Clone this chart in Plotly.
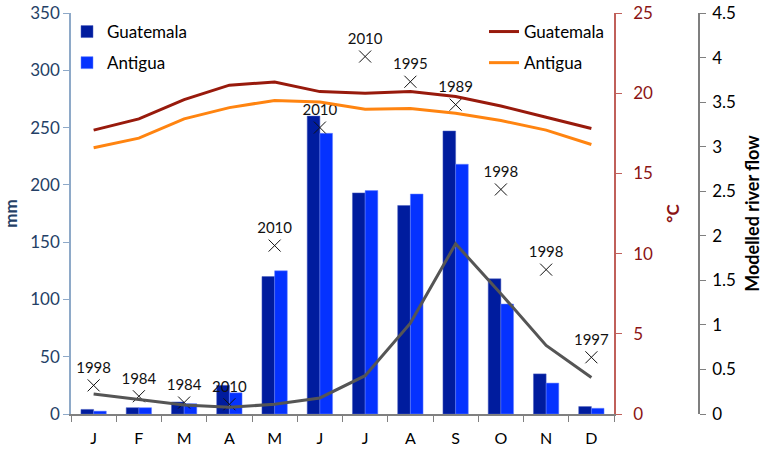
import plotly.graph_objects as go

months = ["J", "F", "M", "A", "M", "J", "J", "A", "S", "O", "N", "D"]
x_idx = list(range(12))

# Precipitation (mm)
precip_guatemala = [4, 5.5, 10.5, 25, 120, 260, 193, 182, 247, 118, 35, 6.5]
precip_antigua = [2.5, 5.5, 9, 18.5, 125, 245, 195, 192, 218, 96, 27, 5]

# Temperature (°C)
temp_guatemala = [17.7, 18.4, 19.6, 20.5, 20.7, 20.1, 20.0, 20.1, 19.8, 19.2, 18.5, 17.8]
temp_antigua = [16.6, 17.2, 18.4, 19.1, 19.55, 19.45, 19.0, 19.05, 18.75, 18.3, 17.7, 16.8]

# Modelled river flow
river_flow = [0.225, 0.165, 0.10, 0.075, 0.11, 0.18, 0.43, 1.02, 1.91, 1.35, 0.77, 0.41]

# Record values (mm) and their years
record_values = [25, 15.5, 10, 8.5, 147, 250, 312, 290, 270, 196, 126, 49.5]
record_years = ["1998", "1984", "1984", "2010", "2010", "2010", "2010", "1995", "1989", "1998", "1998", "1997"]

FONT = "Lato"
W, H = 763, 452
ML, MR, MT, MB = 71, 10, 13, 38
PW = W - ML - MR
PH = H - MT - MB
x_end = (614 - ML) / PW
flow_pos = (699 - ML) / PW

fig = go.Figure()

fig.add_trace(go.Bar(
    x=x_idx, y=precip_guatemala, name="Guatemala",
    marker=dict(color="#001C9E", line=dict(color="#4a5fc0", width=0.5)),
    legend="legend", legendgroup="g1",
))
fig.add_trace(go.Bar(
    x=x_idx, y=precip_antigua, name="Antigua",
    marker=dict(color="#0532FF", line=dict(color="#6b84ff", width=0.5)),
    legend="legend", legendgroup="g2",
))

fig.add_trace(go.Scatter(
    x=x_idx, y=temp_guatemala, name="Guatemala", mode="lines",
    line=dict(color="#981A0C", width=3), yaxis="y2",
    legend="legend2", legendgroup="g3",
))
fig.add_trace(go.Scatter(
    x=x_idx, y=temp_antigua, name="Antigua", mode="lines",
    line=dict(color="#FF8410", width=3), yaxis="y2",
    legend="legend2", legendgroup="g4",
))

fig.add_trace(go.Scatter(
    x=x_idx, y=river_flow, mode="lines", showlegend=False,
    line=dict(color="#555555", width=3), yaxis="y3",
))

fig.add_trace(go.Scatter(
    x=x_idx, y=record_values, mode="markers+text", showlegend=False,
    text=record_years, textposition="top center",
    textfont=dict(family=FONT, size=15, color="#111111"),
    marker=dict(symbol="x-thin-open", size=12, color="#111111",
                line=dict(color="#111111", width=1)),
    yaxis="y",
))

fig.update_layout(
    width=W, height=H,
    margin=dict(l=ML, r=MR, t=MT, b=MB, autoexpand=False),
    paper_bgcolor="white", plot_bgcolor="white",
    font=dict(family=FONT, size=15, color="#000000"),
    barmode="group", bargap=0.44, bargroupgap=0,
    xaxis=dict(
        domain=[0, x_end], range=[-0.5, 11.5], automargin=False,
        tickvals=x_idx, ticktext=months, ticks="", ticklabelstandoff=9,
        showline=True, linecolor="#808080", linewidth=1.5,
        showgrid=False, zeroline=False,
        tickfont=dict(family=FONT, size=16, color="#000000"),
        minor=dict(tick0=-0.5, dtick=1, ticks="outside", ticklen=6,
                   tickcolor="#808080", showgrid=False),
    ),
    yaxis=dict(
        range=[0, 350], dtick=50, ticks="outside", ticklen=6, automargin=False,
        tickcolor="#8EA9C8", showline=True, linecolor="#8EA9C8", linewidth=1.5,
        showgrid=False, zeroline=False,
        tickfont=dict(family=FONT, size=17, color="#243F66"),
        title=dict(text="<b>mm</b>", font=dict(family=FONT, size=17, color="#243F66")),
    ),
    yaxis2=dict(
        overlaying="y", side="right", anchor="x", automargin=False,
        range=[0, 25], dtick=5, ticks="outside", ticklen=6, ticklabelstandoff=8,
        tickcolor="#C0605A", showline=True, linecolor="#C0605A", linewidth=1.5,
        showgrid=False, zeroline=False,
        tickfont=dict(family=FONT, size=17, color="#8B1414"),
        title=dict(text="<b>°C</b>", font=dict(family=FONT, size=17, color="#8B1414")),
    ),
    yaxis3=dict(
        overlaying="y", side="right", anchor="free", position=flow_pos, automargin=False,
        range=[0, 4.5], dtick=0.5, ticks="outside", ticklen=6, ticklabelstandoff=3,
        tickcolor="#7F7F7F", showline=True, linecolor="#7F7F7F", linewidth=1.5,
        showgrid=False, zeroline=False,
        tickfont=dict(family=FONT, size=17, color="#000000"),
        title=dict(text="<b>Modelled river flow</b>", font=dict(family=FONT, size=18, color="#000000")),
    ),
    legend=dict(
        x=(67 - ML) / PW, y=(PH + MT - 14) / PH, xanchor="left", yanchor="top",
        bgcolor="rgba(0,0,0,0)", font=dict(family=FONT, size=17),
        traceorder="grouped", tracegroupgap=6, itemwidth=30,
    ),
    legend2=dict(
        x=(484 - ML) / PW, y=(PH + MT - 14) / PH, xanchor="left", yanchor="top",
        bgcolor="rgba(0,0,0,0)", font=dict(family=FONT, size=17),
        traceorder="grouped", tracegroupgap=6, itemwidth=30,
    ),
)

fig.write_html(
    "out.html",
    config={"displayModeBar": False},
    post_script="document.body.style.margin='0';document.body.style.padding='0';",
)
